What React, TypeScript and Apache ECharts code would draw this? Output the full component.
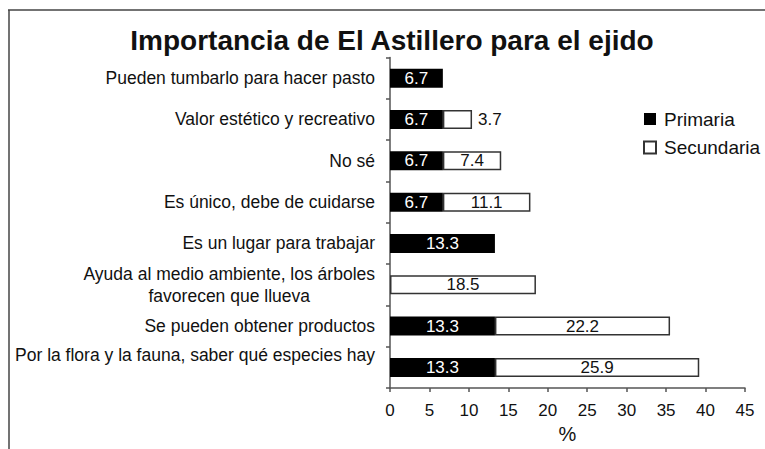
import React, { useEffect, useRef } from "react";
import * as echarts from "echarts";

const TITLE = "Importancia de El Astillero para el ejido";
const categories = [
  "Pueden tumbarlo para hacer pasto",
  "Valor estético y recreativo",
  "No sé",
  "Es único, debe de cuidarse",
  "Es un lugar para trabajar",
  "Ayuda al medio ambiente, los árboles\nfavorecen que llueva",
  "Se pueden obtener productos",
  "Por la flora y la fauna, saber qué especies hay",
];
const primaria: (number | null)[] = [6.7, 6.7, 6.7, 6.7, 13.3, null, 13.3, 13.3];
const secundaria: (number | null)[] = [null, 3.7, 7.4, 11.1, null, 18.5, 22.2, 25.9];
const xTicks = { min: 0, max: 45, interval: 5 };
const seriesNames = ["Primaria", "Secundaria"];

const FONT = "'Liberation Sans', Arial, Helvetica, sans-serif";

export default function App() {
  const ref = useRef<HTMLDivElement>(null);
  useEffect(() => {
    if (!ref.current) return;
    const chart = echarts.init(ref.current, undefined, { renderer: "svg" });
    const yData = categories.map((c, i) => {
      if (i === categories.length - 1) {
        return { value: c, textStyle: { padding: [0, 0, 24, 0] } };
      }
      return { value: c };
    });
    chart.setOption({
      animation: false,
      backgroundColor: "#ffffff",
      textStyle: { fontFamily: FONT },
      graphic: [
        { type: "line", shape: { x1: 8, y1: 10, x2: 765, y2: 10 }, style: { stroke: "#444", lineWidth: 1.5 } },
        { type: "line", shape: { x1: 9, y1: 10, x2: 9, y2: 449 }, style: { stroke: "#444", lineWidth: 1.5 } },
        {
          type: "text",
          x: 392,
          y: 40,
          style: {
            text: TITLE,
            textAlign: "center",
            textVerticalAlign: "middle",
            fontFamily: FONT,
            fontWeight: "bold",
            fontSize: 28,
            fill: "#111",
          },
        },
      ],
      legend: {
        orient: "vertical",
        left: 643,
        top: 109,
        padding: 0,
        itemWidth: 12,
        itemHeight: 12,
        itemGap: 8.5,
        icon: "rect",
        data: seriesNames,
        textStyle: { fontSize: 19, lineHeight: 20, color: "#111", fontFamily: FONT, padding: [0, 0, 0, 3] },
      },
      grid: { left: 390, right: 20, top: 57.5, bottom: 39.5 },
      xAxis: {
        type: "value",
        min: xTicks.min,
        max: xTicks.max,
        interval: xTicks.interval,
        name: "%",
        nameLocation: "middle",
        nameGap: 18,
        nameTextStyle: { fontSize: 20, color: "#111", fontFamily: FONT },
        axisLine: { show: true, lineStyle: { color: "#555", width: 1.5 } },
        axisTick: { show: true, length: 4, lineStyle: { color: "#555", width: 1.5 } },
        splitLine: { show: false },
        axisLabel: { fontSize: 17, color: "#111", margin: 14, fontFamily: FONT },
      },
      yAxis: {
        type: "category",
        inverse: true,
        data: yData,
        axisLine: { show: true, lineStyle: { color: "#555", width: 1.5 } },
        axisTick: { show: true, length: 4, lineStyle: { color: "#555", width: 1.5 } },
        axisLabel: {
          fontSize: 17.5,
          color: "#111",
          margin: 15,
          fontFamily: FONT,
          formatter: (v: string) => {
            if (v.includes("\n")) {
              return v
                .split("\n")
                .map((l) => "{c|" + l + "}")
                .join("\n");
            }
            return v;
          },
          rich: {
            c: { align: "center", fontSize: 17.5, lineHeight: 22, color: "#111", fontFamily: FONT },
          },
        },
      },
      series: [
        {
          name: seriesNames[0],
          type: "bar",
          stack: "total",
          barWidth: 19,
          data: primaria,
          itemStyle: { color: "#000000" },
          label: {
            show: true,
            position: "inside",
            color: "#ffffff",
            fontSize: 17,
            fontFamily: FONT,
          },
        },
        {
          name: seriesNames[1],
          type: "bar",
          stack: "total",
          barWidth: 19,
          data: secundaria.map((v) =>
            v !== null && v < 5
              ? { value: v, label: { position: "right", distance: 6 } }
              : v
          ),
          itemStyle: { color: "#ffffff", borderColor: "#333", borderWidth: 1.5 },
          label: {
            show: true,
            position: "inside",
            color: "#111",
            fontSize: 17,
            fontFamily: FONT,
          },
        },
      ],
    });
    return () => chart.dispose();
  }, []);
  return (
    <div
      ref={ref}
      style={{ position: "absolute", left: 0, top: 0, width: 765, height: 449 }}
    />
  );
}
